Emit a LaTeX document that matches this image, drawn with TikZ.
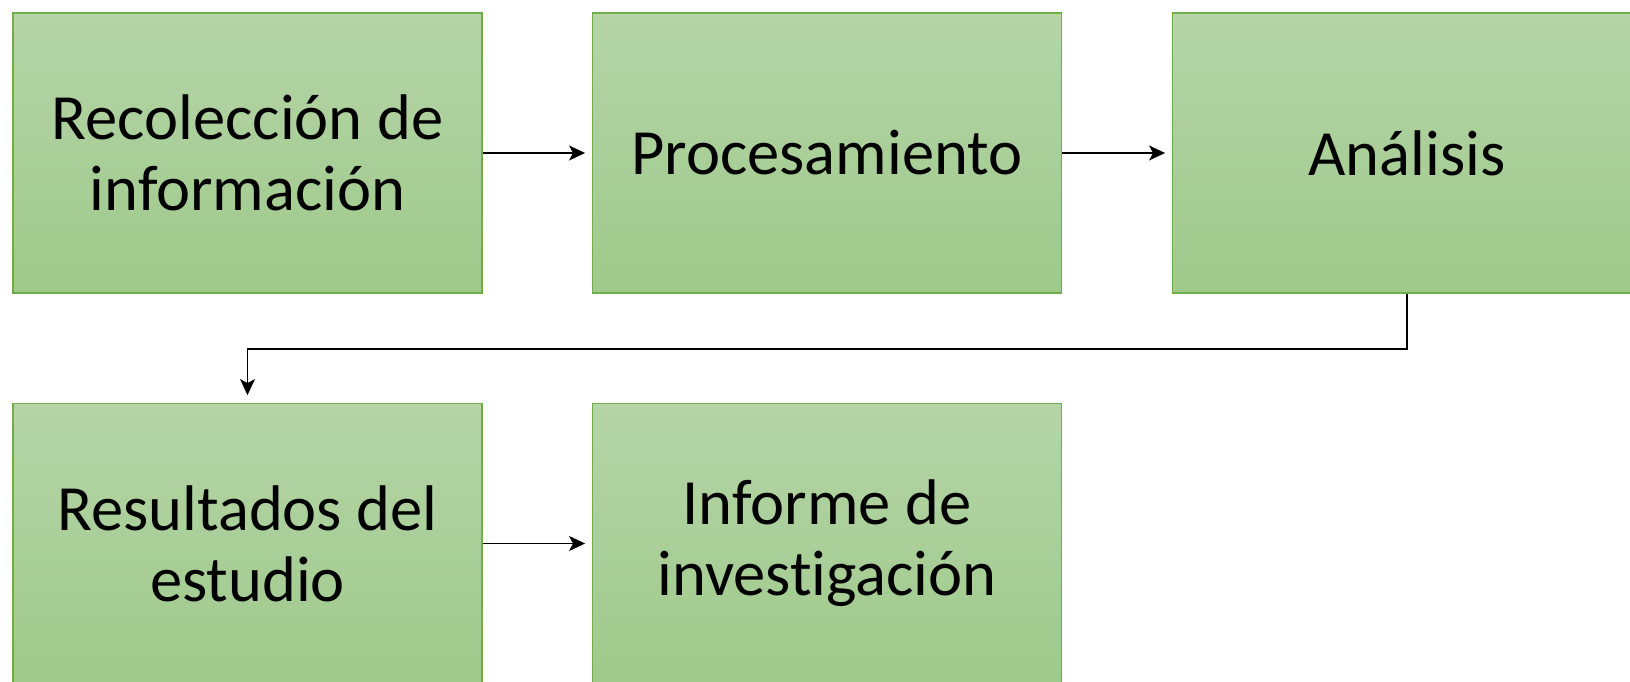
\documentclass[tikz,border=0pt]{standalone}
\usepackage{fontspec}
\setmainfont[Ligatures=NoCommon]{Carlito}
\usetikzlibrary{arrows.meta}
\definecolor{gtop}{RGB}{181,212,167}
\definecolor{gbot}{RGB}{159,202,139}
\definecolor{gline}{RGB}{112,173,71}
\tikzset{
  stepbox/.style={draw=gline, line width=1.9pt, top color=gtop, bottom color=gbot,
    minimum width=469pt, minimum height=280pt, inner sep=0pt, align=center,
    font=\fontsize{64.5pt}{71pt}\selectfont, text=black},
  conn/.style={line width=1.1pt, -{Stealth[length=16pt,width=15pt,inset=4pt]}}
}
\begin{document}
\begin{tikzpicture}[x=1pt,y=1pt]
\useasboundingbox (0,0) rectangle (1630,682);
\clip (0,0) rectangle (1630,682);
\fill[white] (0,0) rectangle (1630,682);
\node[stepbox] (a) at (247.5,529) {Recolección de\\información};
\node[stepbox] (b) at (827,529) {Procesamiento};
\node[stepbox] (c) at (1407,529) {Análisis};
\node[stepbox] (d) at (247.5,138.5) {Resultados del\\estudio};
\node[stepbox] (e) at (827,138.5) {Informe de\\investigación};
\draw[conn, shorten >=6.5pt] (a.east) -- (b.west);
\draw[conn, shorten >=6.5pt] (b.east) -- (c.west);
\coordinate (m) at (1407,333);
\draw[conn, shorten >=7.5pt] (c.south) -- (m) -| (d.north);
\draw[conn, shorten >=6.5pt] (d.east) -- (e.west);
\end{tikzpicture}
\end{document}
